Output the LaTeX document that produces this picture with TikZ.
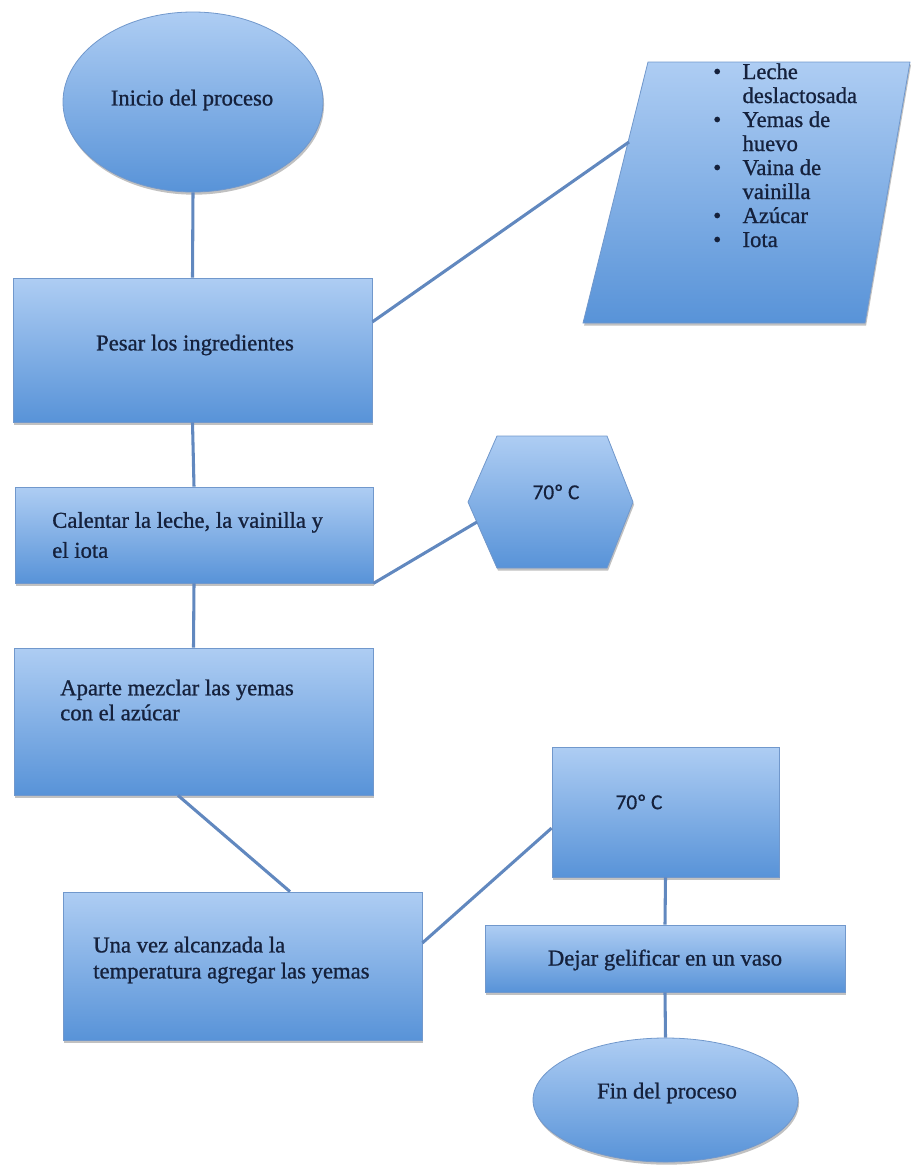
\documentclass[tikz,border=0pt]{standalone}
\usepackage{fontspec}
\setmainfont{Liberation Serif}[FakeBold=0.9]
\newfontfamily\calib{Carlito}[FakeBold=0.6]
\usetikzlibrary{shapes.geometric,shadows,calc}

\definecolor{boxtop}{HTML}{AECDF3}
\definecolor{boxbot}{HTML}{5893D8}
\definecolor{boxline}{HTML}{7198CC}
\definecolor{linkcol}{HTML}{6188BF}
\definecolor{ink}{HTML}{15213C}

\tikzset{
  blueshape/.style={top color=boxtop, bottom color=boxbot, draw=boxline, line width=0.6pt,
    drop shadow={shadow xshift=0.8pt, shadow yshift=-2pt, opacity=0.35, fill=black!70}},
  stepbox/.style={blueshape, rectangle, inner sep=0pt},
  termshape/.style={blueshape, ellipse, inner sep=0pt},
  txt/.style={text=ink, font=\fontsize{17}{20}\selectfont, inner sep=0pt},
  temptxt/.style={text=ink, font=\calib\fontsize{16}{19}\selectfont, inner sep=0pt},
  link/.style={draw=linkcol, line width=2.3pt}
}

\begin{document}
\begin{tikzpicture}[x=0.75pt, y=-0.75pt]
\useasboundingbox (0,0) rectangle (914,1168);

% start and end terminals
\node[termshape, minimum width=195pt, minimum height=135pt] (inicio) at (193,102) {};
\node[txt] (inicio-t) at (192,100) {Inicio del proceso};

% weighing step
\node[stepbox, minimum width=269.25pt, minimum height=108pt] (pesar) at (192.5,350) {};
\node[txt] (pesar-t) at (195,345) {Pesar los ingredientes};

% ingredient list (input parallelogram)
\coordinate (p1) at (648,62);
\coordinate (p2) at (910,62);
\coordinate (p3) at (865,323);
\coordinate (p4) at (583,323);
\shade[blueshape] (p1) -- (p2) -- (p3) -- (p4) -- cycle;
\coordinate (ingr-in) at (629,142);
\node[txt, anchor=base west] (ingr) at (713,79) {%
  \fontsize{17}{18}\selectfont
  \begin{tabular}[t]{@{}l@{\hspace{16pt}}l@{}}
    \textbullet & Leche\\
                & deslactosada\\
    \textbullet & Yemas de\\
                & huevo\\
    \textbullet & Vaina de\\
                & vainilla\\
    \textbullet & Azúcar\\
    \textbullet & Iota
  \end{tabular}};

% heating step
\node[stepbox, minimum width=268.5pt, minimum height=72pt] (calentar) at (194,535) {};
\node[txt, anchor=west, align=left, font=\fontsize{17}{22.5}\selectfont] (calentar-t) at (52,535)
  {Calentar la leche, la vainilla y\\el iota};

% temperature hexagon
\coordinate (h1) at (468,502);
\coordinate (h2) at (497,436);
\coordinate (h3) at (607,436);
\coordinate (h4) at (633,502);
\coordinate (h5) at (607,568);
\coordinate (h6) at (497,568);
\shade[blueshape] (h1) -- (h2) -- (h3) -- (h4) -- (h5) -- (h6) -- cycle;
\coordinate (hex-in) at (477,522);
\node[temptxt] (hex-t) at (556,492) {70º C};

% mixing step
\node[stepbox, minimum width=269.25pt, minimum height=110.25pt] (aparte) at (193.5,721.5) {};
\node[txt, anchor=west, align=left, font=\fontsize{17}{18.75}\selectfont] (aparte-t) at (60,700)
  {Aparte mezclar las yemas\\con el azúcar};

% combining step
\node[stepbox, minimum width=269.25pt, minimum height=111pt] (una) at (242.5,966) {};
\node[txt, anchor=west, align=left, font=\fontsize{17}{19.5}\selectfont] (una-t) at (93,960)
  {Una vez alcanzada la\\temperatura agregar las yemas};

% temperature check
\node[stepbox, minimum width=170.25pt, minimum height=97.5pt] (temp) at (665.5,812) {};
\node[temptxt] (temp-t) at (639,802) {70º C};

% setting step
\node[stepbox, minimum width=270pt, minimum height=50.25pt] (dejar) at (665,958.5) {};
\node[txt] (dejar-t) at (665,960) {Dejar gelificar en un vaso};

\node[termshape, minimum width=198.75pt, minimum height=93pt] (fin) at (665.5,1100) {};
\node[txt] (fin-t) at (667,1093) {Fin del proceso};

% connectors
\draw[link] (inicio.south) -- (pesar.north);
\draw[link] ($(pesar.north east)!0.306!(pesar.south east)$) -- (ingr-in);
\draw[link] (pesar.south) -- (calentar.north);
\draw[link] (calentar.south east) -- (hex-in);
\draw[link] (calentar.south) -- (aparte.north);
\draw[link] ($(aparte.south west)!0.457!(aparte.south east)$) -- ($(una.north west)!0.632!(una.north east)$);
\draw[link] ($(una.north east)!0.345!(una.south east)$) -- ($(temp.north west)!0.623!(temp.south west)$);
\draw[link] (temp.south) -- (dejar.north);
\draw[link] (dejar.south) -- (fin.north);
\end{tikzpicture}
\end{document}
